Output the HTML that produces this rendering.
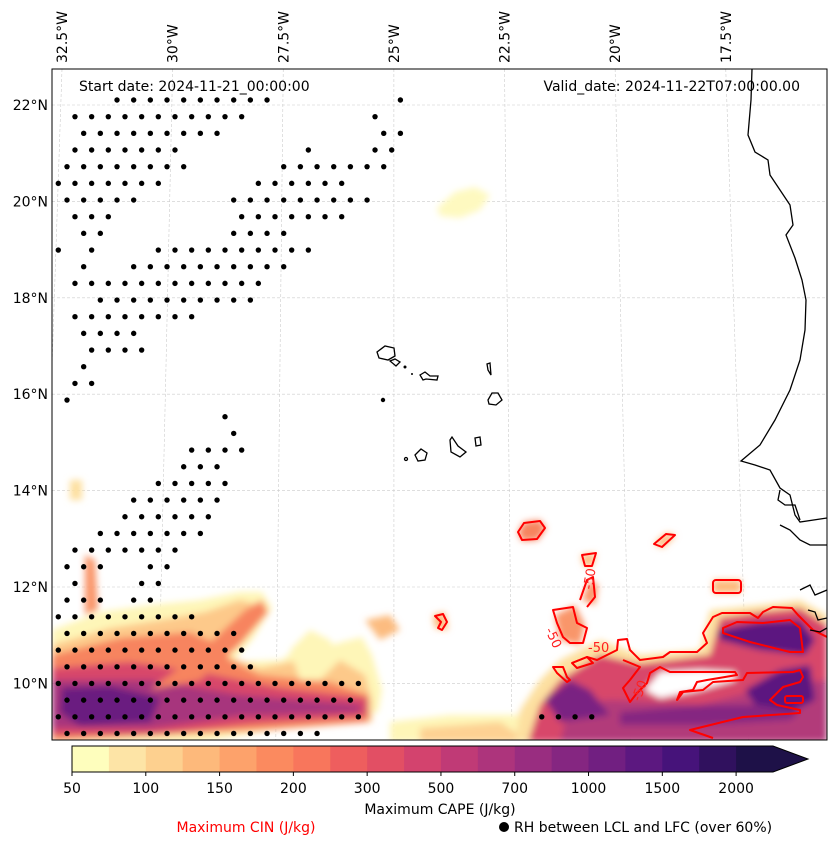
<!DOCTYPE html>
<html><head><meta charset="utf-8"><style>
body{margin:0;background:#fff;}
svg{display:block;font-family:"DejaVu Sans","Liberation Sans",sans-serif;}
</style></head><body>
<svg id="chart" width="837" height="845" viewBox="0 0 837 845">
<defs>
<clipPath id="mapclip"><rect x="52" y="69" width="775" height="671"/></clipPath>
<filter id="blur" x="-20%" y="-20%" width="140%" height="140%"><feGaussianBlur stdDeviation="3.5"/></filter>
</defs>
<g id="map" clip-path="url(#mapclip)">
<g id="grid"></g>
<g id="cape" filter="url(#blur)">
 <polygon fill="#fef6b8" points="52,630 100,612 150,605 200,600 240,592 262,592 272,608 252,640 232,662 282,660 300,645 322,648 342,642 362,637 372,655 382,690 378,712 300,726 200,742 52,742"/>
 <polygon fill="#fdc98a" points="52,645 110,628 160,620 205,612 240,600 258,605 250,630 225,655 260,668 300,660 340,660 365,675 372,700 372,722 250,732 52,742"/>
 <polygon fill="#f7845e" points="52,655 120,638 190,632 220,645 230,660 260,675 330,682 368,695 368,722 250,730 52,740"/>
 <polygon fill="#d8466b" points="52,668 130,662 200,672 280,688 368,698 368,716 250,724 150,735 52,735"/>
 <polygon fill="#a7347d" points="52,680 150,680 240,695 360,705 360,712 240,716 150,728 52,728"/>
 <polygon fill="#6a1f80" points="62,688 110,686 160,698 150,722 80,726 60,712"/>
 <polygon fill="#f7845e" points="150,690 190,660 215,638 245,610 262,600 268,612 240,645 200,680"/>
 <polygon fill="#f9966a" points="85,555 95,560 98,610 85,615"/>
 <polygon fill="#fde0a0" points="70,480 82,480 82,500 70,500"/>
 <polygon fill="#fef6b8" points="290,650 310,630 330,640 340,660 320,680 300,680"/>
 <polygon fill="#fcbc80" points="365,620 390,615 400,630 380,640"/>
 <polygon fill="#fef6b8" points="390,722 450,715 520,715 540,740 390,742"/>
 <polygon fill="#fdd193" points="420,728 500,722 530,742 420,742"/>
 <polygon fill="#fef9c0" points="437,208 455,192 475,187 490,195 480,210 460,218 440,216"/>
 <polygon fill="#fde0a0" points="515,742 520,710 540,680 560,660 600,640 640,655 700,650 710,610 760,605 800,600 827,615 827,742"/>
 <polygon fill="#d8466b" points="528,742 540,705 560,680 600,655 640,664 710,655 720,618 760,612 800,608 827,625 827,742"/>
 <polygon fill="#b23a7a" points="560,742 570,705 610,700 700,705 760,690 827,680 827,742"/>
 <polygon fill="#ffffff" points="645,690 660,672 700,670 735,672 735,680 700,690 660,698"/>
 <polygon fill="#7a2482" points="545,700 570,680 590,690 610,715 560,722"/>
 <polygon fill="#5c1880" points="718,630 760,622 800,620 815,640 805,655 760,650 720,640"/>
 <polygon fill="#5c1880" points="745,690 780,670 810,665 815,700 790,712 760,712"/>
 <polygon fill="#852681" points="620,712 700,705 760,705 800,712 790,720 700,725 620,725"/>
 <polygon fill="#f9966a" points="555,615 575,605 585,625 580,645 560,640"/>
 <polygon fill="#f9966a" points="582,600 590,580 598,585 595,605"/>
 <polygon fill="#f7845e" points="518,532 524,522 540,520 546,528 538,540 522,541"/>
 <polygon fill="#fdb97b" points="654,544 666,533 676,535 663,548"/>
 <polygon fill="#fdb97b" points="581,555 596,553 592,567 584,566"/>
 <polygon fill="#fdb97b" points="713,580 741,580 741,593 713,593"/>
 <polygon fill="#fdb97b" points="433,615 445,612 448,630 435,628"/>
</g>
<g id="cin" fill="none" stroke="#ff0000" stroke-width="2" stroke-linejoin="round">
 <polygon points="518,532 524,523 540,521 545,528 537,539 522,540"/>
 <polygon points="654,544 666,534 675,535 662,547"/>
 <polygon points="582,555 596,553 592,566 585,566"/>
 <rect x="713" y="580" width="28" height="13" rx="3"/>
 <polygon points="435,616 443,614 447,622 442,630 438,628 441,622"/>
 <polyline points="572,663 587,657 597,660 617,650 618,640 627,639 630,650 640,660 663,657 670,652 697,652 707,643 703,633 713,617 722,613 750,613 758,618 763,612 773,607 792,608 798,615 813,630 827,637"/>
 <polyline points="623,660 640,667 630,680 623,688 630,702 637,693 647,683 650,673 660,667 670,672 735,672 737,675 707,680 697,682 693,690 680,692 677,700 683,692"/>
 <polygon points="723,628 737,622 763,623 790,620 800,628 803,652 790,652 750,642 723,633"/>
 <polyline points="677,700 683,692 703,690 713,682 743,680 747,673 793,672 800,670 803,677 800,682 783,687 770,700 777,705 800,710 800,713 743,717 690,730 713,738"/>
 <polygon points="553,610 573,607 577,623 587,628 583,643 570,643 563,637 557,623"/>
 <polyline points="580,600 587,580 593,577 595,597 587,607"/>
 <polygon points="553,667 563,667 567,677 570,680 567,682 557,673"/>
 <polygon points="572,663 587,657 593,663 577,668"/>
 <rect x="785" y="696" width="18" height="7" rx="2"/>
</g>
<g fill="#ff2020" font-size="13">
 <text transform="translate(545,630) rotate(65)">-50</text>
 <text transform="translate(592,590) rotate(-80)">-50</text>
 <text x="588" y="652">-50</text>
 <text transform="translate(640,702) rotate(-70)">-50</text>
</g>
<g id="dots" fill="#000"></g>
<g fill="none" stroke="#000" stroke-width="1.3">
 <polyline points="752,69 751,100 748,135 755,152 768,160 770,175 780,190 790,205 793,225 786,235 795,258 802,280 806,300 805,330 800,360 790,390 775,420 760,445 741,461 755,465 770,470 780,488 790,495 795,515 800,522 827,518"/>
 <polyline points="780,490 778,500 785,505 795,505 800,520"/>
 <polyline points="780,525 790,530 800,540 810,545 827,545"/>
 <polyline points="800,590 810,585 815,595 827,590"/>
 <polyline points="808,610 815,612 818,620 827,618"/>
 <polyline points="810,630 820,632 827,628"/>
 <polygon points="377,352 385,346 394,348 395,356 388,360 379,358"/>
 <polygon points="390,361 395,359 400,362 396,366"/>
 <polygon points="420,375 425,372 430,376 438,376 437,380 426,379 423,380"/>
 <polygon points="487,364 490,363 491,375 488,370"/>
 <polygon points="488,400 492,393 498,393 502,400 496,405 489,404"/>
 <polygon points="450,440 452,437 458,446 466,452 460,457 451,452"/>
 <polygon points="475,438 480,437 481,445 476,446"/>
 <polygon points="415,455 421,449 427,453 425,460 418,461"/>
 <circle cx="406" cy="459" r="1.5"/>
</g>
<g fill="#000">
 <circle cx="405" cy="367" r="1.5"/><circle cx="412" cy="374" r="1"/><circle cx="383" cy="400" r="2.2"/>
</g>
</g>
<rect x="52" y="69" width="775" height="671" fill="none" stroke="#000" stroke-width="1"/>
<text x="79" y="91" font-size="14">Start date: 2024-11-21_00:00:00</text>
<text x="800" y="91" font-size="14" text-anchor="end">Valid_date: 2024-11-22T07:00:00.00</text>
<g id="lonlabels" font-size="14"></g>
<g id="latlabels" font-size="14"></g>
<g id="cbar"></g>
<text x="440" y="814" font-size="14" text-anchor="middle">Maximum CAPE (J/kg)</text>
<text x="246" y="832" font-size="14" fill="#ff0000" text-anchor="middle">Maximum CIN (J/kg)</text>
<circle cx="504" cy="827" r="5" fill="#000"/>
<text x="514" y="832" font-size="14">RH between LCL and LFC (over 60%)</text>
</svg>
<script>
const levelLabels=["50","100","150","200","300","500","700","1000","1500","2000"];
const levelColors=["#fefebd","#fde4a6","#fdd08f","#fdb97b","#fda26b","#fb8a5f","#f8765c","#ee5e5e","#e24f64","#d3436e","#c03a76","#ad347c","#992d80","#852681","#711f81","#5c1880","#46137a","#30115e","#1e1148"];
const latTicks=[22,20,18,16,14,12,10];
const lonTicks=[32.5,30,27.5,25,22.5,20,17.5];
// dot rows: [rowIndex, kStart, kEnd]
const dotRows=[[0,3,12],[0,20,20],[1,1,11],[1,19,19],[2,1,9],[2,19,20],[3,1,7],[3,15,15],[3,19,20],[4,0,7],[4,13,19],[5,0,6],[5,12,17],[6,0,4],[6,10,18],[7,1,3],[7,11,17],[8,1,2],[8,10,13],[9,0,0],[9,2,2],[9,6,15],[10,1,1],[10,4,13],[11,1,12],[12,2,11],[13,1,8],[14,1,4],[15,2,5],[16,1,1],[17,1,2],[18,0,0],[19,10,10],[20,10,10],[21,8,11],[22,7,9],[23,6,10],[24,4,9],[25,4,9],[26,2,8],[27,1,7],[28,0,2],[28,5,6],[29,1,1],[29,5,6],[30,0,2],[30,4,5],[31,0,8],[32,0,10],[33,0,11],[34,0,11],[35,0,18],[36,0,17],[37,0,18],[37,29,32],[38,0,15]];
const NS="http://www.w3.org/2000/svg";
function mk(tag,attrs,parent){const e=document.createElementNS(NS,tag);for(const k in attrs)e.setAttribute(k,attrs[k]);parent.appendChild(e);return e;}
const yLat=lat=>105+(22-lat)*48.2;
const xLonTop=lon=>62+(32.5-lon)*44.25;
const xLonBot=lon=>{const t=xLonTop(lon);return t+(t-393)*0.068;};
const grid=document.getElementById('grid');
latTicks.forEach(l=>{const y=yLat(l);const ln=mk('line',{x1:52,x2:827,y1:y,y2:y,stroke:'#ccc','stroke-width':0.6,'stroke-dasharray':'3,2'},grid);


const t=mk('text',{x:48,y:y+5,'text-anchor':'end'},document.getElementById('latlabels'));t.textContent=l+'°N';

});
lonTicks.forEach(l=>{const ln=mk('line',{x1:xLonTop(l),x2:xLonBot(l),y1:69,y2:740,stroke:'#ccc','stroke-width':0.6,'stroke-dasharray':'3,2'},grid);


const x=xLonTop(l)+5;const t=mk('text',{transform:`translate(${x},63) rotate(-90)`},document.getElementById('lonlabels'));t.textContent=l+'°W';

});
const dots=document.getElementById('dots');
dotRows.forEach(([r,a,b])=>{const y=100+r*16.67;const x0=r%2===0?67:58.3;for(let k=a;k<=b;k++){const c=mk('circle',{cx:x0+k*16.67,cy:y,r:2.7},dots);

}});
const cb=document.getElementById('cbar');const bw=(773-72)/levelColors.length;
levelColors.forEach((c,i)=>{const r=mk('rect',{x:72+i*bw,y:746,width:bw+0.5,height:26,fill:c},cb);

});
const ar=mk('polygon',{points:'773,746 808,759 773,772',fill:levelColors[levelColors.length-1]},cb);


mk('polygon',{points:'72,746 773,746 808,759 773,772 72,772',fill:'none',stroke:'#000','stroke-width':1},cb);
levelLabels.forEach((l,i)=>{const x=72+i*2*bw;mk('line',{x1:x,x2:x,y1:772,y2:776,stroke:'#000'},cb);
const t=mk('text',{x:x,y:793,'text-anchor':'middle','font-size':14},cb);t.textContent=l;

});
</script>
</body></html>
